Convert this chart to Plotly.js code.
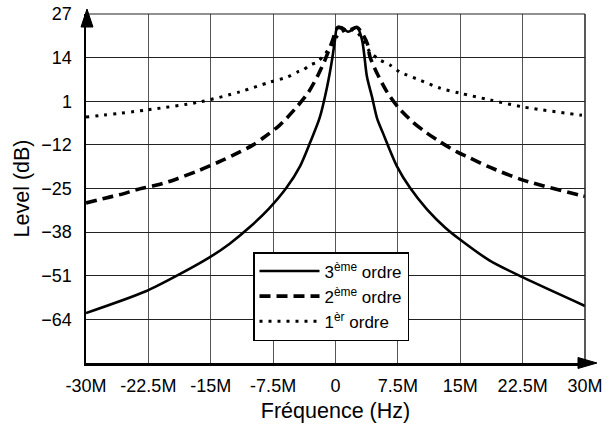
<!DOCTYPE html>
<html>
<head>
<meta charset="utf-8">
<script src="https://cdn.plot.ly/plotly-3.0.1.min.js"></script>
<style>html,body{margin:0;padding:0;background:#fff}#chart{width:608px;height:432px}</style>
</head>
<body>
<div id="chart"></div>
<script>
// Frequencies in Hz, levels in dB
const freq3 = [-30e6,-22.8e6,-18.8e6,-15.2e6,-12.8e6,-10.3e6,-8.0e6,-5.9e6,-4.27e6,-3.07e6,-1.9e6,-1.02e6,-0.42e6,-0.06e6,0.2e6,0.8e6,1.5e6,2.6e6,3.19e6,3.79e6,4.39e6,4.99e6,5.71e6,7.39e6,8.96e6,11.0e6,13.17e6,14.97e6,18.5e6,22.55e6,30e6];
const level3 = [-62.1,-55.6,-50.6,-45.6,-41.6,-36.5,-31.0,-24.8,-18.4,-11.4,-3.9,5.2,13.3,19.3,23.0,23.0,21.7,23.0,19.3,8.2,2.3,-4.0,-8.5,-18.4,-24.8,-31.2,-36.6,-40.2,-46.4,-51.5,-60.0];

const freq2 = [-30e6,-27.6e6,-25.55e6,-24.0e6,-21.9e6,-20.1e6,-16.3e6,-13.5e6,-11.5e6,-9.9e6,-8.5e6,-6.7e6,-4.87e6,-3.3e6,-2.1e6,-1.26e6,-0.42e6,-0.06e6,0.3e6,1.5e6,2.6e6,3.79e6,4.15e6,5.1e6,6.19e6,7.5e6,9.3e6,11.0e6,12.57e6,14.6e6,16.17e6,18.4e6,22.55e6,29.4e6,30e6];
const level2 = [-29.3,-27.8,-26.6,-25.4,-24.2,-23.0,-19.5,-16.5,-14.1,-12.0,-9.6,-6.1,-1.3,3.5,8.8,13.3,18.7,21.3,23.0,22.0,23.0,18.4,14.2,8.8,3.8,-0.7,-5.2,-8.5,-11.1,-14.1,-15.9,-18.5,-22.5,-27.0,-27.3];

const freq1 = [-30e6,-22.7e6,-16.3e6,-11.5e6,-7.9e6,-5.8e6,-4.6e6,-3.9e6,-3.07e6,-2.2e6,-1.3e6,-0.42e6,0.4e6,1.5e6,2.6e6,4.15e6,5.35e6,6.55e6,7.76e6,10.16e6,12.57e6,14.97e6,18.58e6,22.55e6,29.4e6,30e6];
const level1 = [-3.7,-1.6,0.8,3.8,6.7,8.2,9.7,10.3,11.8,12.7,15.0,17.8,21.0,22.5,21.5,15.7,13.3,11.8,9.7,7.3,4.9,3.4,1.4,-0.7,-3.1,-3.3];

const seriesNames = ['3<sup>ème</sup> ordre','2<sup>ème</sup> ordre','1<sup>èr</sup> ordre'];
const xTickVals = [-30e6,-22.5e6,-15e6,-7.5e6,0,7.5e6,15e6,22.5e6,30e6];
const xTickText = ['-30M','-22.5M','-15M','-7.5M','0','7.5M','15M','22.5M','30M'];
const yTickVals = [27,14,1,-12,-25,-38,-51,-64];

const W = 608, H = 432;
const M = {l: 86, r: 23, t: 14, b: 69};
const pw = W - M.l - M.r, ph = H - M.t - M.b;
const px = p => (p - M.l) / pw;          // pixel x -> paper x
const py = p => (H - M.b - p) / ph;      // pixel y -> paper y

const FONT = 'Liberation Sans, Arial, Helvetica, sans-serif';

const traces = [
  {x: freq3, y: level3, name: seriesNames[0], mode: 'lines',
   line: {color: '#000', width: 2.6, shape: 'spline', smoothing: 0.8}},
  {x: freq2, y: level2, name: seriesNames[1], mode: 'lines',
   line: {color: '#000', width: 3.6, dash: '11px,6px', shape: 'spline', smoothing: 0.8}},
  {x: freq1, y: level1, name: seriesNames[2], mode: 'lines',
   line: {color: '#000', width: 3, dash: '3px,6px', shape: 'spline', smoothing: 0.8}}
];

const shapes = [
  // thin top and right borders
  {type: 'line', xref: 'paper', yref: 'paper', x0: 0, x1: 1, y0: 1, y1: 1, line: {color: '#222', width: 1}},
  {type: 'line', xref: 'paper', yref: 'paper', x0: 1, x1: 1, y0: 0, y1: 1, line: {color: '#222', width: 1.5}},
  // y axis arrow
  {type: 'path', xref: 'paper', yref: 'paper',
   path: `M ${px(81)},${py(27)} L ${px(87)},${py(9)} L ${px(93)},${py(27)} Z`,
   fillcolor: '#000', line: {color: '#000', width: 1}},
  // x axis arrow
  {type: 'path', xref: 'paper', yref: 'paper',
   path: `M ${px(578)},${py(357.5)} L ${px(597)},${py(363)} L ${px(578)},${py(368.5)} Z`,
   fillcolor: '#000', line: {color: '#000', width: 1}}
];

const layout = {
  width: W, height: H,
  margin: M,
  paper_bgcolor: '#fff', plot_bgcolor: '#fff',
  font: {family: FONT, color: '#000', size: 18},
  showlegend: true,
  legend: {
    x: px(253), y: py(252), xanchor: 'left', yanchor: 'top',
    bgcolor: '#fff', bordercolor: '#000', borderwidth: 1.5,
    font: {family: FONT, size: 17, color: '#000'},
    itemwidth: 60, tracegroupgap: 0
  },
  xaxis: {
    range: [-30e6, 30e6], tickvals: xTickVals, ticktext: xTickText,
    showgrid: true, gridcolor: '#555', gridwidth: 1,
    showline: true, linecolor: '#000', linewidth: 2.5,
    zeroline: false, ticks: '', ticklabelstandoff: 5,
    tickfont: {family: FONT, size: 18, color: '#000'},
    title: {text: 'Fréquence (Hz)', font: {family: FONT, size: 21.5, color: '#000'}, standoff: 8}
  },
  yaxis: {
    range: [-77, 27], tickvals: yTickVals,
    showgrid: true, gridcolor: '#222', gridwidth: 1,
    showline: true, linecolor: '#000', linewidth: 2.5,
    zeroline: false, ticks: '', ticklabelstandoff: 8,
    tickfont: {family: FONT, size: 18, color: '#000'},
    title: {text: 'Level (dB)', font: {family: FONT, size: 21.5, color: '#000'}, standoff: 6}
  },
  shapes: shapes
};

Plotly.newPlot('chart', traces, layout, {staticPlot: true, displayModeBar: false});
</script>
</body>
</html>
